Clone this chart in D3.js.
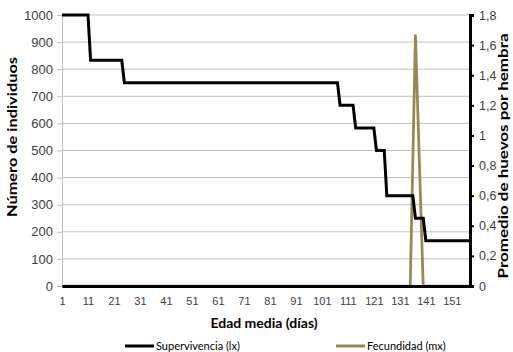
<!DOCTYPE html>
<html>
<head>
<meta charset="utf-8">
<script src="https://cdn.jsdelivr.net/npm/d3@7"></script>
<style>
  body { margin: 0; background: #fff; }
  svg { font-family: Lato, "Open Sans", sans-serif; }
</style>
</head>
<body>
<div id="chart"></div>
<script>
// categories (days on the x axis)
const days = d3.range(1, 159);
const xTickLabels = [1, 11, 21, 31, 41, 51, 61, 71, 81, 91, 101, 111, 121, 131, 141, 151];
const leftTicks = [0, 100, 200, 300, 400, 500, 600, 700, 800, 900, 1000];
const rightTicks = [0, 0.2, 0.4, 0.6, 0.8, 1, 1.2, 1.4, 1.6, 1.8];

// Supervivencia (lx) - vertices of the step line
const lxDays = [1, 11, 12, 24, 25, 107, 108, 113, 114, 121, 122, 125, 126, 136, 137, 140, 141, 158];
const lxValues = [1000, 1000, 833, 833, 750, 750, 667, 667, 583, 583, 500, 500, 333, 333, 250, 250, 167, 167];

// Fecundidad (mx)
const mxDays = [1, 135, 137, 140, 158];
const mxValues = [0, 0, 1.67, 0, 0];

const width = 513, height = 352;
const plot = { left: 62, right: 470, top: 15, bottom: 286 };

const svg = d3.select('#chart').append('svg')
  .attr('width', width)
  .attr('height', height);

const x = d3.scalePoint().domain(days).range([plot.left, plot.right]);
const yL = d3.scaleLinear().domain([0, 1000]).range([plot.bottom, plot.top]);
const yR = d3.scaleLinear().domain([0, 1.8]).range([plot.bottom, plot.top]);

// gridlines
svg.append('g')
  .selectAll('line')
  .data(leftTicks)
  .enter().append('line')
  .attr('x1', plot.left).attr('x2', plot.right)
  .attr('y1', d => yL(d)).attr('y2', d => yL(d))
  .attr('stroke', '#bfbfbf')
  .attr('stroke-width', 1);

// left axis
const axL = svg.append('g')
  .attr('transform', `translate(${plot.left},0)`)
  .call(d3.axisLeft(yL).tickValues(leftTicks).tickSize(5).tickPadding(4).tickFormat(d3.format('d')));
axL.select('.domain').attr('stroke', '#bfbfbf');
axL.selectAll('.tick line').attr('stroke', '#bfbfbf');
axL.selectAll('text').attr('font-size', 13).attr('fill', '#404040');

// series
const lxLine = d3.line().x(d => x(d[0])).y(d => yL(d[1]));
const mxLine = d3.line().x(d => x(d[0])).y(d => yR(d[1]));

svg.append('path')
  .datum(mxDays.map((d, i) => [d, mxValues[i]]))
  .attr('d', mxLine)
  .attr('fill', 'none')
  .attr('stroke', '#948a54')
  .attr('stroke-width', 2.75);

svg.append('path')
  .datum(lxDays.map((d, i) => [d, lxValues[i]]))
  .attr('d', lxLine)
  .attr('fill', 'none')
  .attr('stroke', '#000')
  .attr('stroke-width', 3);

// bottom axis
const axB = svg.append('g')
  .attr('transform', `translate(0,${plot.bottom})`)
  .call(d3.axisBottom(x).tickValues(xTickLabels).tickSize(0).tickPadding(11));
axB.select('.domain').attr('stroke', '#000').attr('stroke-width', 3);
axB.selectAll('text').attr('font-size', 11).attr('fill', '#404040');

// right axis
const axR = svg.append('g')
  .attr('transform', `translate(${plot.right},0)`)
  .call(d3.axisRight(yR).tickValues(rightTicks).tickSize(4).tickPadding(5)
    .tickFormat(d => String(d).replace('.', ',')));
axR.select('.domain').attr('stroke', '#000').attr('stroke-width', 3);
axR.selectAll('.tick line').attr('stroke', '#000').attr('stroke-width', 2);
axR.selectAll('text').attr('font-size', 12.5).attr('fill', '#404040');

// axis titles
svg.append('text')
  .attr('transform', 'translate(17,137) rotate(-90)')
  .attr('text-anchor', 'middle')
  .attr('font-size', 14).attr('font-weight', 'bold')
  .attr('textLength', 160).attr('lengthAdjust', 'spacingAndGlyphs')
  .text('Número de individuos');

svg.append('text')
  .attr('transform', 'translate(508,156) rotate(-90)')
  .attr('text-anchor', 'middle')
  .attr('font-size', 14).attr('font-weight', 'bold')
  .attr('textLength', 245).attr('lengthAdjust', 'spacingAndGlyphs')
  .text('Promedio de huevos por hembra');

svg.append('text')
  .attr('x', 264).attr('y', 328)
  .attr('text-anchor', 'middle')
  .attr('font-size', 14).attr('font-weight', 'bold')
  .text('Edad media (días)');

// legend
const legend = [
  { name: 'Supervivencia (lx)', color: '#000', x: 125 },
  { name: 'Fecundidad (mx)', color: '#948a54', x: 336 }
];
const lg = svg.append('g').selectAll('g').data(legend).enter().append('g')
  .attr('transform', d => `translate(${d.x},346)`);
lg.append('line')
  .attr('x1', 0).attr('x2', 29)
  .attr('stroke', d => d.color).attr('stroke-width', 3);
lg.append('text')
  .attr('x', 31).attr('dy', '0.35em')
  .attr('font-size', 11).attr('fill', '#000')
  .text(d => d.name);
</script>
</body>
</html>
